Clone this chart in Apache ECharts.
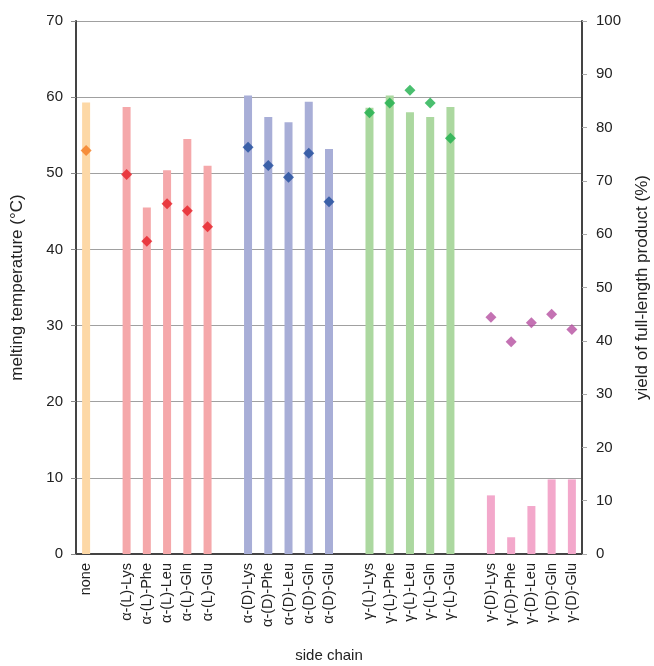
<!DOCTYPE html>
<html>
<head>
<meta charset="utf-8">
<script src="https://cdn.jsdelivr.net/npm/echarts@6/dist/echarts.min.js"></script>
<style>
  html, body { margin: 0; padding: 0; background: #fff; }
  #chart { width: 654px; height: 666px; }
</style>
</head>
<body>
<div id="chart"></div>
<script>
// side chain groups (category labels)
const labelsNone = ['none']
const labelsAlphaL = ['α-(L)-Lys', 'α-(L)-Phe', 'α-(L)-Leu', 'α-(L)-Gln', 'α-(L)-Glu']
const labelsAlphaD = ['α-(D)-Lys', 'α-(D)-Phe', 'α-(D)-Leu', 'α-(D)-Gln', 'α-(D)-Glu']
const labelsGammaL = ['γ-(L)-Lys', 'γ-(L)-Phe', 'γ-(L)-Leu', 'γ-(L)-Gln', 'γ-(L)-Glu']
const labelsGammaD = ['γ-(D)-Lys', 'γ-(D)-Phe', 'γ-(D)-Leu', 'γ-(D)-Gln', 'γ-(D)-Glu']

// melting temperature (°C) -> bars, left axis
const tempNone = [59.3]
const tempAlphaL = [58.7, 45.5, 50.4, 54.5, 51.0]
const tempAlphaD = [60.2, 57.4, 56.7, 59.4, 53.2]
const tempGammaL = [58.6, 60.2, 58.0, 57.4, 58.7]
const tempGammaD = [7.7, 2.2, 6.3, 9.8, 9.8]

// yield of full-length product (%) -> diamonds, right axis
const yieldNone = [75.7]
const yieldAlphaL = [71.2, 58.7, 65.7, 64.4, 61.4]
const yieldAlphaD = [76.3, 72.9, 70.7, 75.2, 66.1]
const yieldGammaL = [82.8, 84.6, 87.0, 84.6, 78.0]
const yieldGammaD = [44.4, 39.8, 43.4, 45.0, 42.1]

const barColors = ['#fdd8a6', '#f5a8aa', '#a8aed7', '#acd8a0', '#f3a8cb']
const dotColors = ['#f47c20', '#e61e25', '#1f4c9c', '#1daf4b', '#b54fa0']

const groups = [
  [labelsNone, tempNone, yieldNone],
  [labelsAlphaL, tempAlphaL, yieldAlphaL],
  [labelsAlphaD, tempAlphaD, yieldAlphaD],
  [labelsGammaL, tempGammaL, yieldGammaL],
  [labelsGammaD, tempGammaD, yieldGammaD]
]

// one empty slot between groups
let categories = []
let offsets = []
groups.forEach((g, i) => {
  if (i > 0) categories.push(' '.repeat(i))
  offsets.push(categories.length)
  categories = categories.concat(g[0])
})

const fillSeries = (vals, start) => {
  let arr = categories.map(() => null)
  vals.forEach((v, k) => { arr[start + k] = v })
  return arr
}

let series = []
groups.forEach((g, i) => {
  series.push({
    type: 'bar', stack: 'temp', barWidth: 8,
    itemStyle: { color: barColors[i] },
    data: fillSeries(g[1], offsets[i])
  })
})
groups.forEach((g, i) => {
  series.push({
    type: 'scatter', yAxisIndex: 1, symbol: 'diamond', symbolSize: [11, 11],
    itemStyle: { color: dotColors[i] },
    data: fillSeries(g[2], offsets[i])
  })
})

const font = 'Liberation Sans, Arial, sans-serif'
const axisLine = { show: true, lineStyle: { color: '#444', width: 2 } }

let chart = echarts.init(document.getElementById('chart'))
chart.setOption({
  animation: false,
  grid: { left: 76, right: 72, top: 21, bottom: 112, outerBoundsMode: 'none', containLabel: false },
  xAxis: [{
    type: 'category', data: categories,
    name: 'side chain', nameLocation: 'middle', nameGap: 94,
    nameTextStyle: { fontFamily: font, fontSize: 15, color: '#222' },
    axisLine: axisLine,
    axisTick: { show: false },
    axisLabel: { interval: 0, rotate: 90, margin: 9, fontFamily: font, fontSize: 14.5, color: '#222' }
  }, {
    type: 'category', data: categories, position: 'top',
    axisLine: axisLine, axisTick: { show: false }, axisLabel: { show: false }
  }],
  yAxis: [{
    type: 'value', min: 0, max: 70, interval: 10,
    name: 'melting temperature (°C)', nameLocation: 'middle', nameGap: 50,
    nameTextStyle: { fontFamily: font, fontSize: 17, color: '#222' },
    axisLine: axisLine,
    axisTick: { show: true, length: 5, lineStyle: { color: '#888' } },
    axisLabel: { margin: 13, fontFamily: font, fontSize: 15, color: '#222' },
    splitLine: { lineStyle: { color: '#a0a0a0', width: 1 } }
  }, {
    type: 'value', min: 0, max: 100, interval: 10, position: 'right',
    name: 'yield of full-length product (%)', nameLocation: 'middle', nameGap: 52,
    nameTextStyle: { fontFamily: font, fontSize: 17, color: '#222' },
    axisLine: axisLine,
    axisTick: { show: true, length: 5, lineStyle: { color: '#aaa' } },
    axisLabel: { margin: 14, fontFamily: font, fontSize: 15, color: '#222' },
    splitLine: { show: false }
  }],
  series: series
})
</script>
</body>
</html>
